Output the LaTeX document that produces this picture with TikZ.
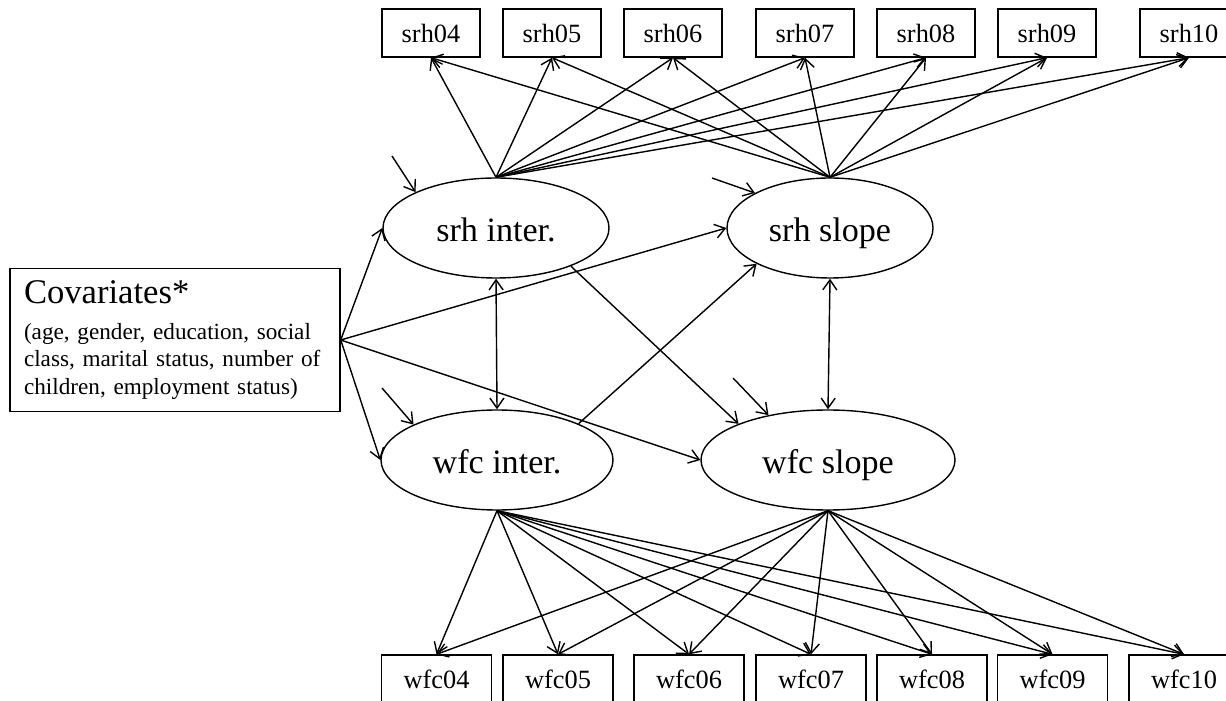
\documentclass[tikz,border=0pt]{standalone}
\usepackage{fontspec}
\setmainfont{Liberation Serif}
\usetikzlibrary{arrows.meta,shapes.geometric}

\begin{document}
\begin{tikzpicture}[
  line width=0.8pt,
  srhBox/.style={draw, rectangle, inner sep=0pt, minimum width=1.96cm, minimum height=0.96cm,
    font=\fontsize{15}{18}\selectfont},
  wfcBox/.style={draw, rectangle, inner sep=0pt, minimum width=2.2cm, minimum height=0.96cm,
    font=\fontsize{15}{18}\selectfont},
  latentOval/.style={draw, ellipse, inner sep=0pt, minimum height=2cm,
    text height=15.4pt, text depth=0pt, font=\fontsize{19.4}{23}\selectfont},
  covFrame/.style={draw, rectangle, inner xsep=0.28cm, inner ysep=0pt,
    minimum width=6.6cm, minimum height=2.86cm, text width=6.04cm, align=left,
    font=\fontsize{13.2}{15.5}\selectfont},
  oneWay/.style={-{Straight Barb[length=2mm,width=2.8mm]}},
  twoWay/.style={{Straight Barb[length=2mm,width=2.8mm]}-{Straight Barb[length=2mm,width=2.8mm]}}
]

  % Frame of the picture
  \useasboundingbox (0,0) rectangle (24.52,14);
  \clip (0,0) rectangle (24.52,14);

  % Top row: srh measures
  \def \yTop {13.34}
  \node[srhBox] (srh04) at (8.62, \yTop) {srh04};
  \node[srhBox] (srh05) at (11.04, \yTop) {srh05};
  \node[srhBox] (srh06) at (13.46, \yTop) {srh06};
  \node[srhBox] (srh07) at (16.10, \yTop) {srh07};
  \node[srhBox] (srh08) at (18.52, \yTop) {srh08};
  \node[srhBox] (srh09) at (20.94, \yTop) {srh09};
  \node[srhBox] (srh10) at (23.78, \yTop) {srh10};

  % Bottom row: wfc measures
  \def \yBot {0.42}
  \node[wfcBox] (wfc04) at (8.73, \yBot) {wfc04};
  \node[wfcBox] (wfc05) at (11.16, \yBot) {wfc05};
  \node[wfcBox] (wfc06) at (13.78, \yBot) {wfc06};
  \node[wfcBox] (wfc07) at (16.22, \yBot) {wfc07};
  \node[wfcBox] (wfc08) at (18.64, \yBot) {wfc08};
  \node[wfcBox] (wfc09) at (21.05, \yBot) {wfc09};
  \node[wfcBox] (wfc10) at (23.68, \yBot) {wfc10};

  % Growth factors
  \def \yUp  {9.44}
  \def \yLow {4.80}
  \node[latentOval, minimum width=4.52cm] (srhInter) at (9.92, \yUp) {srh inter.};
  \node[latentOval, minimum width=4.12cm] (srhSlope) at (16.60, \yUp) {srh slope};
  \node[latentOval, minimum width=4.64cm] (wfcInter) at (9.94, \yLow) {wfc inter.};
  \node[latentOval, minimum width=5.08cm] (wfcSlope) at (16.56, \yLow) {wfc slope};

  % Covariates
  \node[covFrame] (cov) at (3.5, 7.20)
  {{\fontsize{19.7}{19}\selectfont Covariates*}\\[5pt]
   (age, gender, education, social\\
   class, marital status, number of\\
   children, employment status)};

  % Residual tails
  \coordinate (resSrhInter) at (7.84, 10.88);
  \coordinate (resSrhSlope) at (14.24, 10.44);
  \coordinate (resWfcInter) at (7.64, 6.24);
  \coordinate (resWfcSlope) at (14.66, 6.44);

  % LINES srh inter
  \draw[oneWay] (srhInter.north) -- (srh04.south);
  \draw[oneWay] (srhInter.north) -- (srh05.south);
  \draw[oneWay] (srhInter.north) -- (srh06.south);
  \draw[oneWay] (srhInter.north) -- (srh07.south);
  \draw[oneWay] (srhInter.north) -- (srh08.south);
  \draw[oneWay] (srhInter.north) -- (srh09.south);
  \draw[oneWay] (srhInter.north) -- (srh10.south);

  % LINES srh slope
  \draw[oneWay] (srhSlope.north) -- (srh04.south);
  \draw[oneWay] (srhSlope.north) -- (srh05.south);
  \draw[oneWay] (srhSlope.north) -- (srh06.south);
  \draw[oneWay] (srhSlope.north) -- (srh07.south);
  \draw[oneWay] (srhSlope.north) -- (srh08.south);
  \draw[oneWay] (srhSlope.north) -- (srh09.south);
  \draw[oneWay] (srhSlope.north) -- (srh10.south);

  % LINES wfc inter
  \draw[oneWay] (wfcInter.south) -- (wfc04.north);
  \draw[oneWay] (wfcInter.south) -- (wfc05.north);
  \draw[oneWay] (wfcInter.south) -- (wfc06.north);
  \draw[oneWay] (wfcInter.south) -- (wfc07.north);
  \draw[oneWay] (wfcInter.south) -- (wfc08.north);
  \draw[oneWay] (wfcInter.south) -- (wfc09.north);
  \draw[oneWay] (wfcInter.south) -- (wfc10.north);

  % LINES wfc slope
  \draw[oneWay] (wfcSlope.south) -- (wfc04.north);
  \draw[oneWay] (wfcSlope.south) -- (wfc05.north);
  \draw[oneWay] (wfcSlope.south) -- (wfc06.north);
  \draw[oneWay] (wfcSlope.south) -- (wfc07.north);
  \draw[oneWay] (wfcSlope.south) -- (wfc08.north);
  \draw[oneWay] (wfcSlope.south) -- (wfc09.north);
  \draw[oneWay] (wfcSlope.south) -- (wfc10.north);

  % Covariates to the growth factors
  \draw[oneWay] (cov.east) -- (srhInter.west);
  \draw[oneWay] (cov.east) -- (srhSlope.west);
  \draw[oneWay] (cov.east) -- (wfcInter.west);
  \draw[oneWay] (cov.east) -- (wfcSlope.west);

  % Cross paths
  \draw[oneWay] (srhInter.-27) -- (wfcSlope.158);
  \draw[oneWay] (wfcInter.24) -- (srhSlope.206);

  % Covariances
  \draw[twoWay] (srhInter.south) -- (wfcInter.north);
  \draw[twoWay] (srhSlope.south) -- (wfcSlope.north);

  % Residuals
  \draw[oneWay] (resSrhInter) -- (srhInter.156);
  \draw[oneWay] (resSrhSlope) -- (srhSlope.155);
  \draw[oneWay] (resWfcInter) -- (wfcInter.157);
  \draw[oneWay] (resWfcSlope) -- (wfcSlope.143);

\end{tikzpicture}
\end{document}
